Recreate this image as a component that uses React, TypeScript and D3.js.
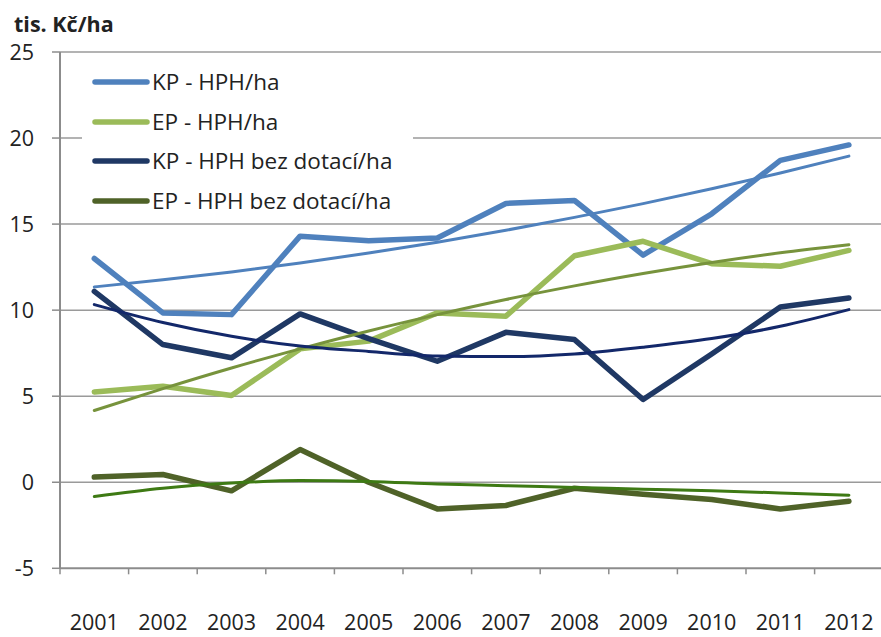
import React from "react";
import * as d3 from "d3";

const years = ["2001","2002","2003","2004","2005","2006","2007","2008","2009","2010","2011","2012"];
const yTicks = [-5, 0, 5, 10, 15, 20, 25];

const kpHph = [13.0, 9.84, 9.74, 14.3, 14.03, 14.19, 16.2, 16.37, 13.2, 15.6, 18.7, 19.6];
const epHph = [5.25, 5.58, 5.04, 7.75, 8.2, 9.84, 9.65, 13.16, 14.0, 12.7, 12.55, 13.47];
const kpBez = [11.09, 8.0, 7.23, 9.78, 8.35, 7.03, 8.71, 8.29, 4.81, 7.45, 10.18, 10.71];
const epBez = [0.3, 0.45, -0.5, 1.9, 0.0, -1.55, -1.35, -0.35, -0.7, -1.0, -1.55, -1.1];

const kpHphTrend = [11.35, 11.76, 12.22, 12.74, 13.32, 13.95, 14.64, 15.39, 16.19, 17.05, 17.97, 18.95];
const epHphTrend = [4.17, 5.44, 6.64, 7.75, 8.79, 9.74, 10.62, 11.41, 12.13, 12.77, 13.33, 13.8];
const kpBezTrend = [10.32, 9.28, 8.48, 7.92, 7.6, 7.34, 7.3, 7.45, 7.85, 8.35, 9.06, 10.03];
const epBezTrend = [-0.83, -0.35, -0.05, 0.1, 0.05, -0.1, -0.2, -0.3, -0.4, -0.5, -0.62, -0.75];

const seriesNames = ["KP - HPH/ha", "EP - HPH/ha", "KP - HPH bez dotací/ha", "EP - HPH bez dotací/ha"];
const seriesColors = ["#4F81BD", "#9BBB59", "#1F3864", "#4F6228"];
const trendColors = ["#4F81BD", "#77933C", "#13286A", "#3E7A14"];

const FONT = "'Open Sans', 'DejaVu Sans', sans-serif";

export default function App() {
  const W = 881, H = 637;
  const left = 60, right = 883.2, top = 52, bottom = 568.3;
  const x = d3.scaleBand<string>().domain(years).range([left, right]).padding(0);
  const y = d3.scaleLinear().domain([-5, 25]).range([bottom, top]);
  const cx = (i: number) => (x(years[i]) as number) + x.bandwidth() / 2;

  const line = d3.line<number>().x((_, i) => cx(i)).y((d) => y(d));
  const trendLine = d3.line<number>().x((_, i) => cx(i)).y((d) => y(d)).curve(d3.curveMonotoneX);

  const series = [kpHph, epHph, kpBez, epBez];
  const trends = [kpHphTrend, epHphTrend, kpBezTrend, epBezTrend];

  const legendY = [82, 122, 161, 201];

  return (
    <svg width={W} height={H} style={{ position: "absolute", left: 0, top: 0, background: "#fff" }} fontFamily={FONT}>
      <rect x={0} y={0} width={W} height={H} fill="#fff" />
      {yTicks.filter((t) => t > -5).map((t) => (
        <line key={"g" + t} x1={left} x2={W} y1={y(t)} y2={y(t)} stroke="#9a9a9a" strokeWidth={1.5} />
      ))}
      <line x1={left} x2={left} y1={top} y2={bottom} stroke="#8c8c8c" strokeWidth={2} />
      <line x1={left} x2={W} y1={bottom} y2={bottom} stroke="#8c8c8c" strokeWidth={2} />
      {yTicks.map((t) => (
        <g key={"yt" + t}>
          <line x1={52} x2={left} y1={y(t)} y2={y(t)} stroke="#8c8c8c" strokeWidth={1.5} />
          <text x={34} y={y(t)} dy="0.36em" textAnchor="end" fontSize={21.5} fill="#222">{t}</text>
        </g>
      ))}
      {years.map((yr, i) => (
        <g key={"xt" + yr}>
          <line x1={x(yr) as number} x2={x(yr) as number} y1={bottom} y2={bottom + 6} stroke="#8c8c8c" strokeWidth={1.5} />
          <text x={cx(i)} y={630} textAnchor="middle" fontSize={21.5} fill="#222">{yr}</text>
        </g>
      ))}
      {series.map((s, k) => (
        <path key={"s" + k} d={line(s) || ""} fill="none" stroke={seriesColors[k]} strokeWidth={5.5} strokeLinejoin="round" strokeLinecap="round" />
      ))}
      {trends.map((s, k) => (
        <path key={"t" + k} d={trendLine(s) || ""} fill="none" stroke={trendColors[k]} strokeWidth={3} strokeLinecap="round" />
      ))}
      <rect x={82} y={62} width={331} height={156} fill="#fff" />
      {seriesNames.map((n, k) => (
        <g key={"l" + k}>
          <line x1={95} x2={147} y1={legendY[k]} y2={legendY[k]} stroke={seriesColors[k]} strokeWidth={5.5} strokeLinecap="round" />
          <text x={152} y={legendY[k]} dy="0.36em" fontSize={22.5} fill="#222">{n}</text>
        </g>
      ))}
      <text x={14} y={32} fontSize={21.5} fontWeight="bold" fill="#222">tis. Kč/ha</text>
    </svg>
  );
}
